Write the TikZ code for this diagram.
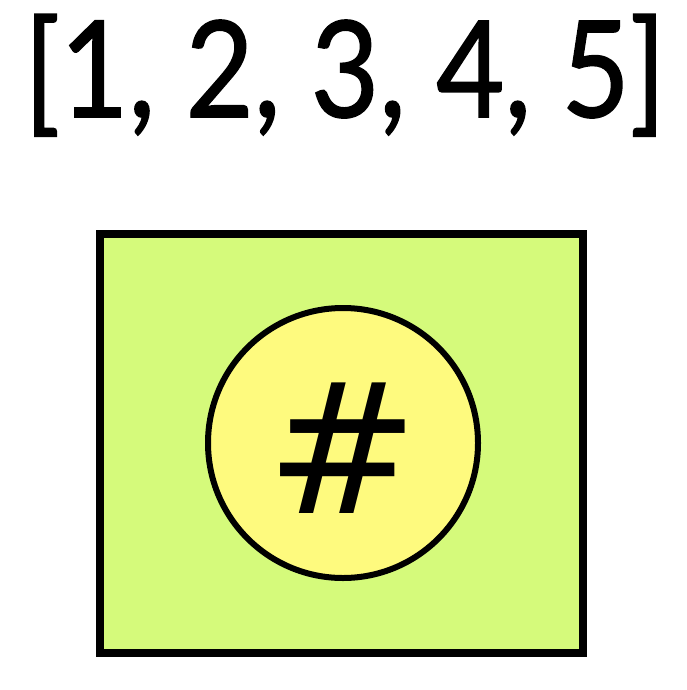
\documentclass[tikz,border=0pt]{standalone}
\usepackage{fontspec}
\setmainfont{Lato}
\newfontfamily\listfont[FakeBold=1.2]{Lato}
\newfontfamily\hashfont{DejaVu Sans}
\usetikzlibrary{positioning}
\definecolor{boxgreen}{RGB}{213,250,123}
\definecolor{holeyellow}{RGB}{254,250,126}

\begin{document}
\begin{tikzpicture}[x=1pt, y=-1pt,
    outer/.style={rectangle, draw, line width=8pt, fill=boxgreen, minimum width=483pt, minimum height=419pt, inner sep=0pt},
    hole/.style={circle, draw, line width=6pt, fill=holeyellow, minimum size=270pt, inner sep=0pt},
    listtext/.style={font=\fontsize{134}{140}\selectfont\listfont, inner sep=0pt, xscale=0.88, transform shape},
    hashtext/.style={font=\fontsize{182}{190}\selectfont\hashfont, inner sep=0pt}
]
\useasboundingbox (0,0) rectangle (686,690);

\node[listtext, anchor=base] (list) at (345,117) {[1, 2, 3, 4, 5]};

\node[outer] (box) at (341.5,443.5) {};
\node[hole] (hole) at (343,443) {};
\node[hashtext, anchor=base] (hash) at (343,513) {\#};

\end{tikzpicture}
\end{document}
